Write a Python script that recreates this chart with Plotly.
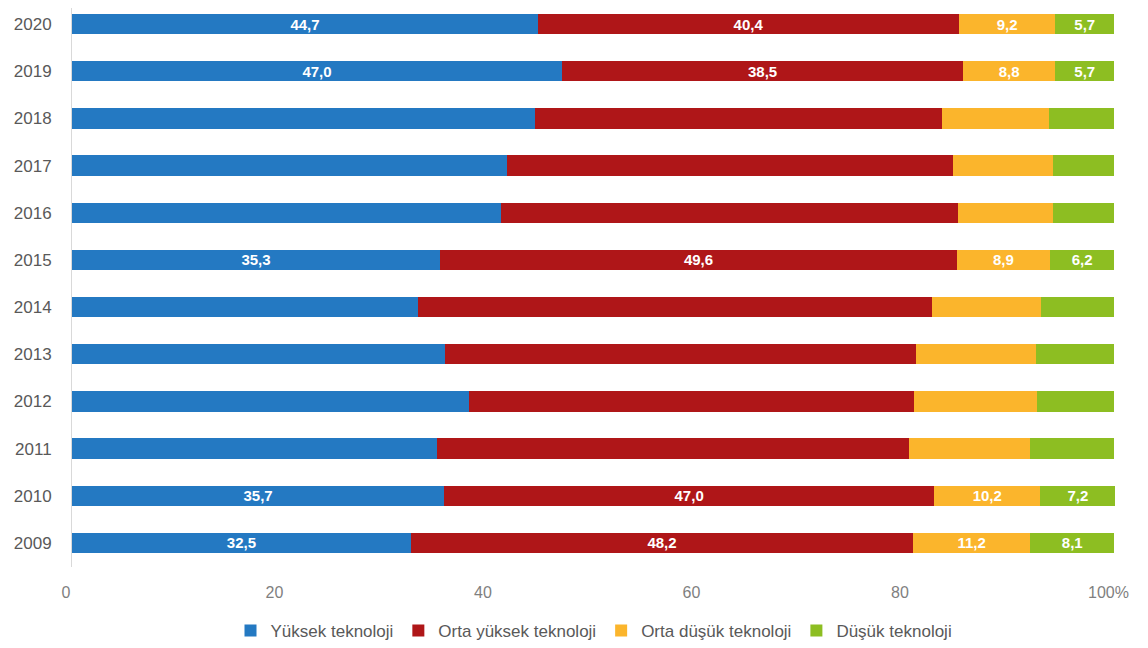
import plotly.graph_objects as go

years = ["2020", "2019", "2018", "2017", "2016", "2015", "2014", "2013", "2012", "2011", "2010", "2009"]
yuksek = [44.7, 47.0, 44.4, 41.7, 41.2, 35.3, 33.2, 35.8, 38.1, 35.0, 35.7, 32.5]
orta_yuksek = [40.4, 38.5, 39.1, 42.8, 43.8, 49.6, 49.3, 45.2, 42.7, 45.3, 47.0, 48.2]
orta_dusuk = [9.2, 8.8, 10.2, 9.6, 9.1, 8.9, 10.5, 11.5, 11.8, 11.6, 10.2, 11.2]
dusuk = [5.7, 5.7, 6.3, 5.9, 5.9, 6.2, 7.0, 7.5, 7.4, 8.1, 7.2, 8.1]
labeled_years = ["2020", "2019", "2015", "2010", "2009"]

series_names = ["Yüksek teknoloji", "Orta yüksek teknoloji", "Orta düşük teknoloji", "Düşük teknoloji"]
colors = ["#2479C2", "#AF1618", "#FBB52C", "#8DBE22"]
x_ticks = [0, 20, 40, 60, 80, 100]
x_tick_text = ["0", "20", "40", "60", "80", "100%"]


def fmt(vals):
    return [(f"{v:.1f}".replace(".", ",") if y in labeled_years else "") for y, v in zip(years, vals)]


fig = go.Figure()
for name, vals, col in zip(series_names, [yuksek, orta_yuksek, orta_dusuk, dusuk], colors):
    fig.add_trace(go.Bar(
        y=years, x=vals, name=name, orientation="h",
        marker=dict(color=col, line=dict(width=0)),
        text=fmt(vals), textposition="inside", insidetextanchor="middle",
        constraintext="none",
        textfont=dict(family="Liberation Sans, Arial", size=15, color="white", weight="bold"),
        textangle=0, cliponaxis=False,
    ))

fig.update_layout(
    barmode="stack",
    bargap=0.57,
    width=1148, height=648,
    margin=dict(l=64, r=40, t=0, b=89, autoexpand=False),
    paper_bgcolor="white", plot_bgcolor="white",
    font=dict(family="Liberation Sans, Arial", color="#595959", size=16),
    showlegend=True,
    legend=dict(orientation="h", x=0.5, xanchor="center", y=-0.082, yanchor="top",
                font=dict(size=17, color="#595959"), traceorder="normal",
                itemwidth=30, tracegroupgap=0),
    xaxis=dict(range=[0, 100.15], tickvals=x_ticks, ticktext=x_tick_text, showgrid=False,
               zeroline=False, showline=False, ticks="", ticklabelstandoff=14,
               ticklabelshift=-6, tickfont=dict(size=16, color="#7F7F7F")),
    yaxis=dict(categoryorder="array", categoryarray=years, range=[11.51, -0.34],
               showgrid=False, showline=True, linecolor="#D9D9D9", linewidth=1,
               ticks="", ticklabelstandoff=16, tickfont=dict(size=17, color="#595959")),
)

fig.write_html("out.html")
